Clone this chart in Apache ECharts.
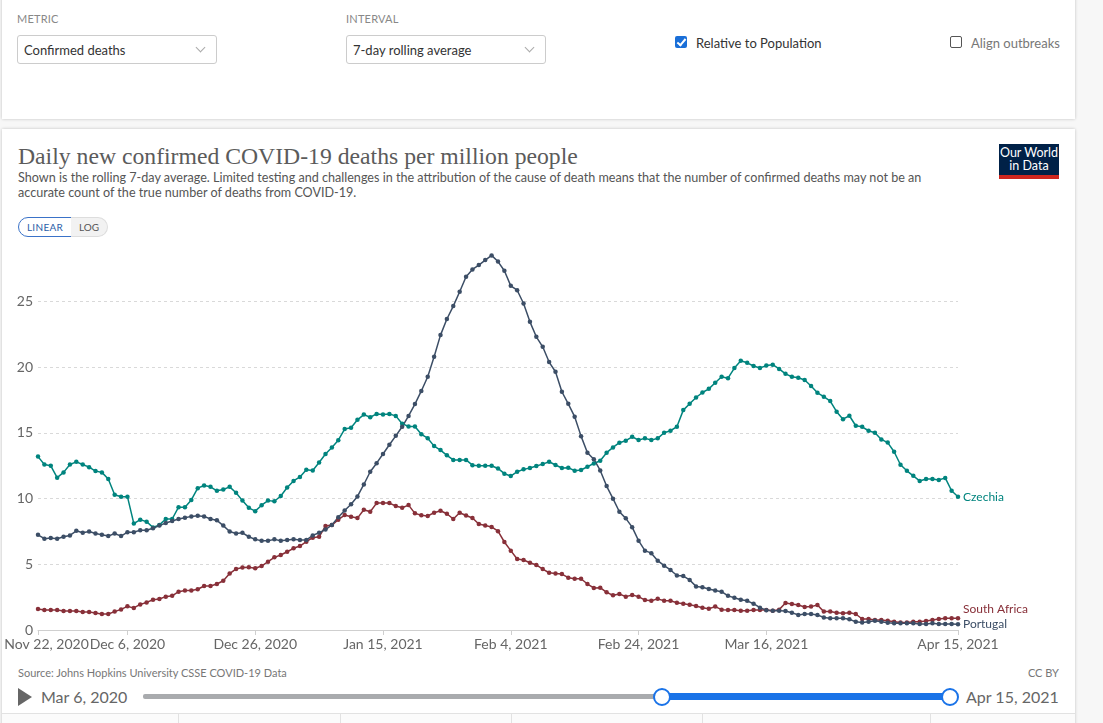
<!DOCTYPE html>
<html>
<head>
<meta charset="utf-8">
<script src="https://cdn.jsdelivr.net/npm/echarts@6/dist/echarts.min.js"></script>
<style>
html,body{margin:0;padding:0;width:1103px;height:723px;overflow:hidden;background:#f7f7f7;font-family:Lato,"Noto Sans",sans-serif;}
.abs{position:absolute;}
.card{position:absolute;background:#fff;box-shadow:0 0 3px rgba(0,0,0,0.22);}
.lbl{position:absolute;font-size:11px;color:#888;letter-spacing:0.2px;}
.sel{position:absolute;height:27px;border:1px solid #ccc;border-radius:3px;background:#fff;font-size:13px;color:#333;line-height:28px;padding-left:6px;box-sizing:content-box;}
.chev{position:absolute;right:12px;top:8px;width:6px;height:6px;border-right:1px solid #aaa;border-bottom:1px solid #aaa;transform:rotate(45deg);}
.txt{position:absolute;white-space:nowrap;}
#chart{position:absolute;left:0;top:0;width:1103px;height:723px;z-index:2;pointer-events:none;}
</style>
</head>
<body>
<div class="card" style="left:2px;top:-4px;width:1073px;height:123px;"></div>
<div class="card" style="left:2px;top:129px;width:1073px;height:600px;"></div>

<div class="lbl" style="left:17px;top:12px;">METRIC</div>
<div class="sel" style="left:17px;top:35px;width:192px;">Confirmed deaths<div class="chev"></div></div>
<div class="lbl" style="left:346px;top:12px;">INTERVAL</div>
<div class="sel" style="left:346px;top:35px;width:192px;">7-day rolling average<div class="chev"></div></div>

<div class="abs" style="left:675px;top:36px;width:12px;height:12px;background:#1a6fd8;border-radius:2px;">
  <div class="abs" style="left:4px;top:1px;width:3px;height:7px;border-right:2px solid #fff;border-bottom:2px solid #fff;transform:rotate(40deg);"></div>
</div>
<div class="txt" style="left:696px;top:35px;font-size:13px;color:#333;">Relative to Population</div>
<div class="abs" style="left:950px;top:36px;width:10px;height:10px;border:1px solid #555;border-radius:2px;background:#fff;"></div>
<div class="txt" style="left:971px;top:35px;font-size:13px;color:#777;">Align outbreaks</div>

<div class="txt" style="left:18px;top:143px;font-family:'Liberation Serif','DejaVu Serif',serif;font-size:23.7px;color:#5b5b5b;">Daily new confirmed COVID-19 deaths per million people</div>
<div class="txt" style="left:18px;top:170px;font-size:12.6px;color:#555;line-height:15px;">Shown is the rolling 7-day average. Limited testing and challenges in the attribution of the cause of death means that the number of confirmed deaths may not be an<br>accurate count of the true number of deaths from COVID-19.</div>

<div class="abs" style="left:999px;top:144px;width:60px;height:35px;background:#002147;">
  <div class="txt" style="left:0;top:2px;width:60px;text-align:center;color:#fff;font-size:12.5px;line-height:13px;">Our World<br>in Data</div>
  <div class="abs" style="left:0;top:31px;width:60px;height:4px;background:#ce261e;"></div>
</div>

<div class="abs" style="left:18px;top:217px;width:52px;height:18px;border:1px solid #3a72c8;border-radius:10px 0 0 10px;background:#fff;font-size:10px;color:#2a5ea8;line-height:18px;text-align:center;letter-spacing:0.3px;">LINEAR</div>
<div class="abs" style="left:71px;top:217px;width:36px;height:18px;border:1px solid #ddd;border-left:none;border-radius:0 10px 10px 0;background:#f2f2f2;font-size:10px;color:#555;line-height:18px;text-align:center;">LOG</div>

<div class="txt" style="left:18px;top:666px;font-size:11px;color:#777;">Source: Johns Hopkins University CSSE COVID-19 Data</div>
<div class="txt" style="left:1010px;top:666px;width:49px;text-align:right;font-size:11px;color:#777;">CC BY</div>

<div class="abs" style="left:18px;top:688px;width:0;height:0;border-left:14px solid #666;border-top:9px solid transparent;border-bottom:9px solid transparent;"></div>
<div class="txt" style="left:41px;top:687px;font-size:16px;color:#666;">Mar 6, 2020</div>
<div class="abs" style="left:143px;top:694px;width:520px;height:5px;background:#a9abae;border-radius:2px;"></div>
<div class="abs" style="left:662px;top:693px;width:288px;height:7px;background:#1a73e8;"></div>
<div class="abs" style="left:653px;top:688px;width:14px;height:14px;border:2px solid #1a73e8;border-radius:50%;background:#fff;"></div>
<div class="abs" style="left:941px;top:688px;width:14px;height:14px;border:2px solid #1a73e8;border-radius:50%;background:#fff;"></div>
<div class="txt" style="left:966px;top:687px;font-size:16px;color:#666;">Apr 15, 2021</div>

<div class="abs" style="left:2px;top:713px;width:1073px;height:12px;border-top:1px solid #e2e2e2;background:#fbfbfb;"></div>
<div class="abs" style="left:178px;top:713px;width:1px;height:12px;background:#e2e2e2;"></div>
<div class="abs" style="left:340px;top:713px;width:1px;height:12px;background:#e2e2e2;"></div>
<div class="abs" style="left:511px;top:713px;width:1px;height:12px;background:#e2e2e2;"></div>
<div class="abs" style="left:702px;top:713px;width:1px;height:12px;background:#e2e2e2;"></div>
<div class="abs" style="left:930px;top:713px;width:1px;height:12px;background:#e2e2e2;"></div>

<div id="chart"></div>
<script>
// ---- data ----
const startDate = '2020-11-22';
const dayCount = 145;
const tickLabels = ['Nov 22, 2020','Dec 6, 2020','Dec 26, 2020','Jan 15, 2021','Feb 4, 2021','Feb 24, 2021','Mar 16, 2021','Apr 15, 2021'];
const yTicks = [0,5,10,15,20,25];
const seriesNames = ['Czechia','South Africa','Portugal'];

const czechia = [13.2,12.6,12.5,11.6,12.0,12.6,12.8,12.6,12.4,12.1,12.0,11.5,10.3,10.15,10.15,8.1,8.4,8.25,7.8,8.0,
8.45,8.45,9.35,9.35,9.9,10.8,11.0,10.9,10.6,10.7,10.9,10.45,9.85,9.3,9.05,9.5,9.85,9.8,10.2,10.85,
11.35,11.65,12.2,12.15,12.75,13.4,13.9,14.45,15.3,15.4,16.0,16.4,16.2,16.45,16.4,16.45,16.3,15.7,15.5,15.5,
14.9,14.6,14.0,13.7,13.3,12.95,12.95,12.95,12.55,12.5,12.5,12.5,12.3,11.9,11.72,12.05,12.23,12.33,12.48,12.63,
12.81,12.56,12.33,12.35,12.13,12.18,12.43,12.68,12.89,13.5,13.9,14.26,14.41,14.71,14.46,14.59,14.46,14.59,15.02,15.17,
15.48,16.74,17.22,17.7,18.08,18.36,18.82,19.28,19.17,19.94,20.5,20.34,20.1,19.95,20.13,20.2,19.88,19.5,19.28,19.2,
19.03,18.58,18.06,17.76,17.43,16.62,16.05,16.31,15.55,15.47,15.17,15.02,14.51,14.27,13.57,12.58,12.12,11.74,11.35,11.5,
11.5,11.42,11.58,10.6,10.15];

const southAfrica = [1.6,1.52,1.52,1.52,1.45,1.45,1.45,1.37,1.37,1.3,1.22,1.22,1.4,1.57,1.8,1.68,1.95,2.1,2.3,2.36,
2.54,2.6,2.92,3.0,3.0,3.1,3.35,3.35,3.5,3.75,4.3,4.65,4.75,4.78,4.7,4.87,5.2,5.53,5.71,5.96,
6.22,6.39,6.72,7.03,7.1,7.91,7.99,8.4,8.75,8.62,8.52,9.15,9.0,9.66,9.66,9.66,9.44,9.31,9.51,8.88,
8.74,8.68,8.93,9.08,8.85,8.45,8.93,8.72,8.53,8.07,7.95,7.85,7.52,6.7,6.04,5.4,5.33,5.12,4.95,4.64,
4.36,4.31,4.26,3.98,3.9,3.9,3.5,3.2,3.22,2.87,2.64,2.74,2.54,2.66,2.54,2.28,2.23,2.37,2.23,2.22,
2.08,2.0,1.92,1.83,1.7,1.62,1.78,1.55,1.52,1.52,1.47,1.47,1.52,1.52,1.52,1.47,1.55,2.05,1.98,1.9,
1.75,1.78,1.9,1.4,1.4,1.32,1.27,1.32,1.22,0.84,0.84,0.76,0.76,0.71,0.63,0.58,0.58,0.63,0.63,0.68,
0.76,0.84,0.89,0.89,0.89];

const portugal = [7.25,6.95,7.0,6.95,7.1,7.2,7.55,7.4,7.5,7.35,7.25,7.15,7.35,7.15,7.45,7.45,7.6,7.6,7.75,7.95,
8.15,8.3,8.45,8.55,8.65,8.7,8.65,8.45,8.35,7.95,7.5,7.35,7.4,7.1,6.9,6.8,6.8,6.9,6.8,6.85,
6.9,6.85,6.85,7.2,7.4,7.65,8.0,8.58,9.1,9.57,10.17,11.08,12.05,12.7,13.4,14.1,14.78,15.47,16.3,17.2,
18.2,19.28,20.8,22.45,23.68,24.66,25.75,26.9,27.45,27.78,28.16,28.52,28.05,27.35,26.2,25.87,24.86,23.46,22.32,21.56,
20.4,19.66,18.14,17.22,16.24,14.76,13.5,13.0,12.15,10.96,10.0,9.0,8.5,7.83,6.8,6.04,5.85,5.28,4.9,4.57,
4.15,4.11,3.81,3.32,3.25,3.12,3.0,2.92,2.6,2.45,2.3,2.22,2.0,1.7,1.5,1.46,1.47,1.44,1.32,1.14,
1.22,1.22,1.14,0.96,0.89,0.89,0.89,0.81,0.63,0.58,0.63,0.71,0.63,0.56,0.51,0.51,0.51,0.51,0.46,0.46,
0.51,0.46,0.46,0.46,0.43];

const colors = {Czechia:'#00847e', 'South Africa':'#883039', Portugal:'#3c4e66'};

// ---- categories ----
const months = ['Jan','Feb','Mar','Apr','May','Jun','Jul','Aug','Sep','Oct','Nov','Dec'];
const categories = [];
const d0 = new Date(startDate + 'T00:00:00Z');
for (let i = 0; i < dayCount; i++) {
  const d = new Date(d0.getTime() + i * 86400000);
  categories.push(months[d.getUTCMonth()] + ' ' + d.getUTCDate() + ', ' + d.getUTCFullYear());
}
const isTick = (idx) => tickLabels.indexOf(categories[idx]) >= 0;

const chart = echarts.init(document.getElementById('chart'), null, {renderer:'canvas'});
const font = 'Lato, "Noto Sans", sans-serif';

function mk(name, data, extra) {
  return Object.assign({
    name: name, type: 'line', data: data,
    symbol: 'circle', symbolSize: 4.5, showSymbol: true, showAllSymbol: true,
    lineStyle: {width: 1.5, color: colors[name]},
    itemStyle: {color: colors[name]},
    emphasis: {disabled: true},
    endLabel: {show: true, formatter: '{a}', color: colors[name], fontSize: 12, fontFamily: font, distance: 5},
    z: 3
  }, extra || {});
}

chart.setOption({
  animation: false,
  backgroundColor: 'transparent',
  grid: {left: 38, right: 145, top: 255, bottom: 93},
  xAxis: {
    type: 'category', data: categories, boundaryGap: false,
    axisLine: {lineStyle: {color: '#cfcfcf', width: 1}},
    axisTick: {show: true, interval: (i) => isTick(i), length: 5, lineStyle: {color: '#cfcfcf'}},
    axisLabel: {
      interval: (i) => isTick(i), color: '#666', fontSize: 14, fontFamily: font, margin: 7,
      formatter: (v, i) => i === 0 ? '{first|' + v + '}' : v,
      rich: {first: {padding: [0, 0, 0, 17], fontSize: 14, fontFamily: font, color: '#666'}}
    },
    splitLine: {show: false}
  },
  yAxis: {
    type: 'value', min: 0, max: 28.55, interval: 5,
    axisLine: {show: false}, axisTick: {show: false},
    axisLabel: {color: '#666', fontSize: 14, fontFamily: font, margin: 5, showMaxLabel: false,
      formatter: (v) => yTicks.indexOf(v) >= 0 ? String(v) : ''},
    splitLine: {show: true, showMinLine: false, showMaxLine: false, lineStyle: {color: '#d9d9d9', type: [3, 3], width: 1}}
  },
  series: [
    mk('Czechia', czechia),
    mk('South Africa', southAfrica, {endLabel: {show: true, formatter: '{a}', color: colors['South Africa'], fontSize: 12, fontFamily: font, distance: 5, offset: [0, -9]}}),
    mk('Portugal', portugal)
  ]
});
</script>
</body>
</html>
